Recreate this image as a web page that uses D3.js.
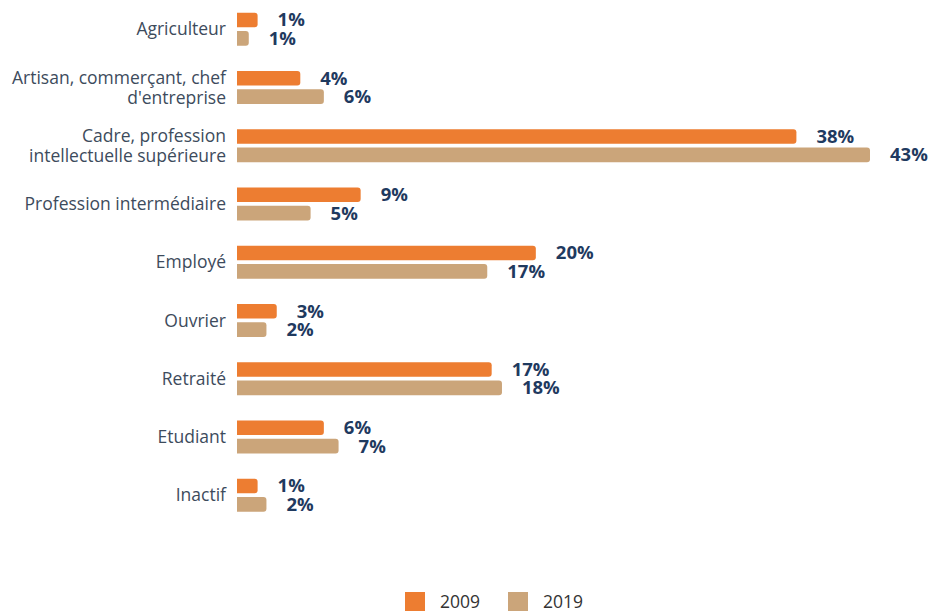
<!DOCTYPE html>
<html>
<head>
<meta charset="utf-8">
<script src="https://cdn.jsdelivr.net/npm/d3@7"></script>
<style>
  body { margin: 0; background: #fff; }
  svg { display: block; }
  .cat { font-family: "Open Sans", sans-serif; font-size: 17.5px; fill: #3d4b5c; }
  .val { font-family: "Open Sans", sans-serif; font-size: 18.5px; font-weight: 700; fill: #1f3a5f; }
  .leg { font-family: "Open Sans", sans-serif; font-size: 17.5px; fill: #333; }
</style>
</head>
<body>
<div id="chart"></div>
<script>
// categories (multi-line labels split on "|")
var categories = ["Agriculteur", "Artisan, commerçant, chef|d'entreprise", "Cadre, profession|intellectuelle supérieure",
  "Profession intermédiaire", "Employé", "Ouvrier", "Retraité", "Etudiant", "Inactif"];
var series = ["2009", "2019"];
// bar lengths
var values2009 = [1.4, 4.3, 38, 8.4, 20.3, 2.7, 17.3, 5.9, 1.4];
var values2019 = [0.8, 5.9, 43, 5.0, 17.0, 2.0, 18.0, 6.9, 2.0];
// printed labels
var labels2009 = [1, 4, 38, 9, 20, 3, 17, 6, 1];
var labels2019 = [1, 6, 43, 5, 17, 2, 18, 7, 2];
var colors = ["#ed7d31", "#cba57a"];

var width = 928, height = 611;
var margin = { top: 0, left: 237 };

var svg = d3.select("#chart").append("svg")
  .attr("width", width).attr("height", height);

var x = d3.scaleLinear().domain([0, 43]).range([0, 633]);
var y = d3.scaleBand().domain(categories).range([0, 524.25]);
var ySub = d3.scaleBand().domain(series).range([-16.5, 16.5]).paddingInner(0.216);

var rows = categories.map(function(c, i) {
  return { cat: c, bars: [
    { s: "2009", v: values2009[i], lab: labels2009[i], col: colors[0] },
    { s: "2019", v: values2019[i], lab: labels2019[i], col: colors[1] }
  ]};
});

var g = svg.append("g").attr("transform", "translate(" + margin.left + "," + margin.top + ")");

var row = g.selectAll(".row").data(rows).enter().append("g")
  .attr("class", "row")
  .attr("transform", function(d) { return "translate(0," + (y(d.cat) + y.bandwidth() / 2) + ")"; });

// bars: square left end, slightly rounded right end
function barPath(w, h, r) {
  r = Math.min(r, w / 2, h / 2);
  return "M0,0H" + (w - r) + "Q" + w + ",0 " + w + "," + r + "V" + (h - r) +
    "Q" + w + "," + h + " " + (w - r) + "," + h + "H0Z";
}

row.selectAll(".bar").data(function(d) { return d.bars; }).enter().append("path")
  .attr("class", "bar")
  .attr("transform", function(d) { return "translate(0," + ySub(d.s) + ")"; })
  .attr("d", function(d) { return barPath(x(d.v), ySub.bandwidth(), 3); })
  .attr("fill", function(d) { return d.col; });

row.selectAll(".val").data(function(d) { return d.bars; }).enter().append("text")
  .attr("class", "val")
  .attr("x", function(d) { return x(d.v) + 20; })
  .attr("y", function(d) { return ySub(d.s) + ySub.bandwidth() / 2; })
  .attr("dy", "0.35em")
  .text(function(d) { return d.lab + "%"; });

// category labels
row.append("text")
  .attr("class", "cat")
  .attr("text-anchor", "end")
  .attr("x", -11)
  .each(function(d) {
    var lines = d.cat.split("|");
    var t = d3.select(this);
    lines.forEach(function(l, i) {
      t.append("tspan").attr("x", -11)
        .attr("y", (i - (lines.length - 1) / 2) * 20)
        .attr("dy", "0.35em")
        .text(l);
    });
  });

// legend
var legend = svg.append("g").attr("transform", "translate(405,592)");
var item = legend.selectAll(".item").data(series).enter().append("g")
  .attr("transform", function(d, i) { return "translate(" + (i * 103) + ",0)"; });
item.append("rect").attr("width", 20).attr("height", 19)
  .attr("fill", function(d, i) { return colors[i]; });
item.append("text").attr("class", "leg")
  .attr("x", 35).attr("y", 10).attr("dy", "0.35em")
  .text(function(d) { return d; });
</script>
</body>
</html>
